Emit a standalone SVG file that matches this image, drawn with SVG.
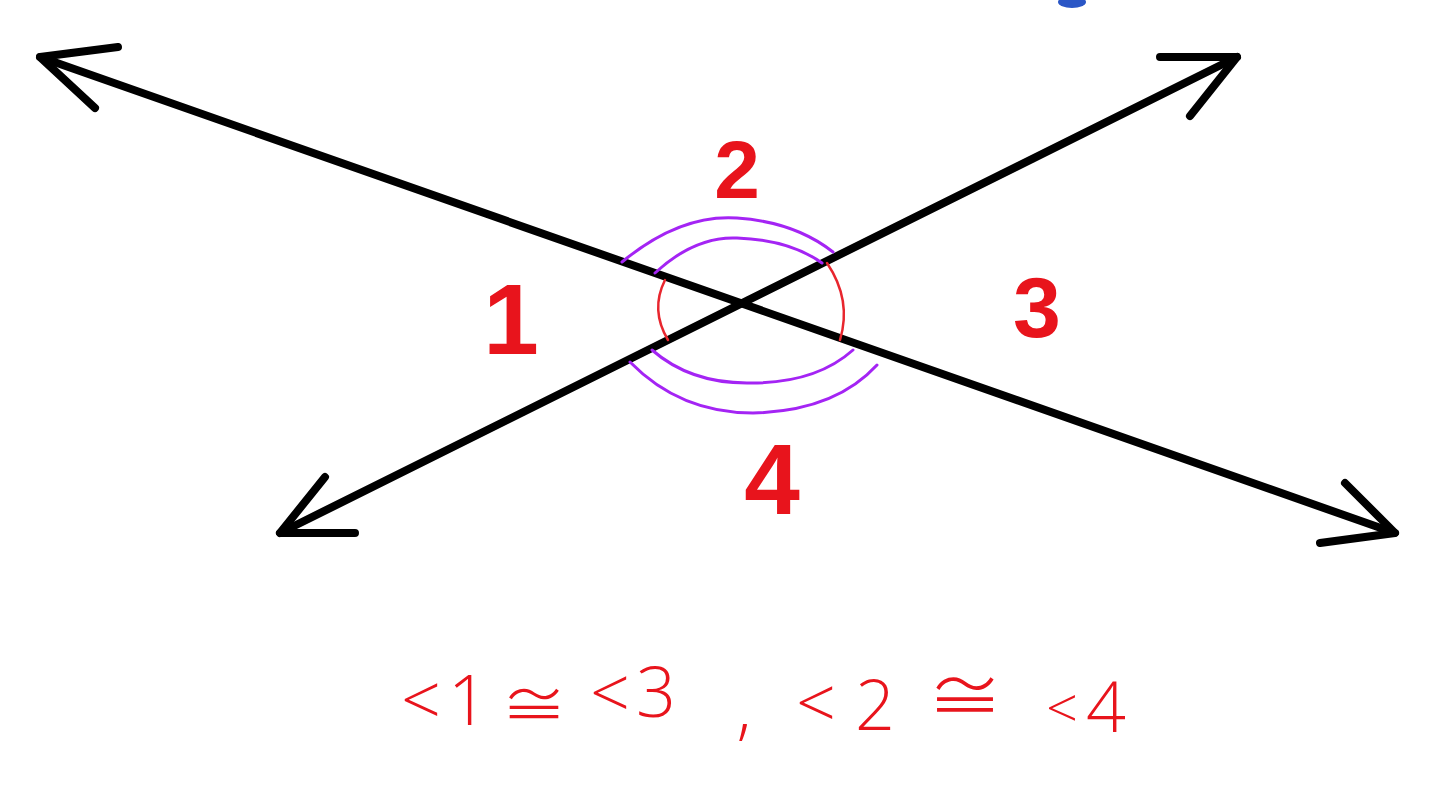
<svg xmlns="http://www.w3.org/2000/svg" width="1440" height="796" viewBox="0 0 1440 796">
<style>
.ln{stroke:#000;stroke-width:8;fill:none;stroke-linecap:round;stroke-linejoin:round}
.pu{stroke:#a424f4;stroke-width:3;fill:none;stroke-linecap:round}
.rd{stroke:#e8262e;stroke-width:2.5;fill:none;stroke-linecap:round}
.num{fill:#e8141c;font-family:"Liberation Sans",Arial,sans-serif;font-weight:bold;text-anchor:middle}
.eq{fill:#e8141c;font-family:"Open Sans","Liberation Sans",sans-serif;font-weight:300;font-size:70px;text-anchor:middle}
.cg{font-family:"Noto Sans CJK JP","DejaVu Sans",sans-serif;font-weight:300}
</style>
<rect width="1440" height="796" fill="#fff"/>
<ellipse cx="1072" cy="2" rx="14" ry="6" fill="#2a56c6"/>
<g id="lines">
<path class="ln" d="M40,57 L1395,533"/>
<path class="ln" d="M280,533 L1237,57"/>
<path class="ln" d="M118,47 L40,57 L95,108"/>
<path class="ln" d="M325,477 L280,533 L355,533"/>
<path class="ln" d="M1160,57 L1237,57 L1190,116"/>
<path class="ln" d="M1345,483 L1395,533 L1320,543"/>
</g>
<g id="arcs">
<path class="pu" d="M622,262 Q680,214 737,218 Q795,222 833,252"/>
<path class="pu" d="M655,273 Q695,236 737,238 Q790,240 822,263"/>
<path class="pu" d="M652,350 Q690,383 747,383 Q815,384 853,350"/>
<path class="pu" d="M630,362 Q680,413 753,413 Q835,411 877,365"/>
<path class="rd" d="M665,280 Q650,310 668,340"/>
<path class="rd" d="M827,263 Q852,300 840,340"/>
</g>
<g id="labels">
<text class="num" x="737" y="198" font-size="82">2</text>
<text class="num" x="511" y="354" font-size="100" font-weight="normal">1</text>
<text class="num" x="1037" y="337" font-size="86">3</text>
<text class="num" x="772" y="514" font-size="100">4</text>
</g>
<g id="equation">
<text class="eq"><tspan x="421" y="725">&lt;</tspan><tspan x="468" y="725">1</tspan><tspan x="500" y="725"> </tspan><tspan class="cg" x="534" y="727" font-size="66">≅</tspan><tspan x="570" y="722"> </tspan><tspan x="610" y="718">&lt;</tspan><tspan x="656" y="717">3</tspan><tspan x="700" y="717"> </tspan><tspan x="744" y="732">,</tspan><tspan x="780" y="730"> </tspan><tspan x="816" y="728">&lt;</tspan><tspan x="875" y="730">2</tspan><tspan x="920" y="730"> </tspan><tspan class="cg" x="965" y="722" font-size="76">≅</tspan><tspan x="1020" y="716"> </tspan><tspan x="1062" y="728" font-size="56">&lt;</tspan><tspan x="1106" y="732">4</tspan></text>
</g>
</svg>
